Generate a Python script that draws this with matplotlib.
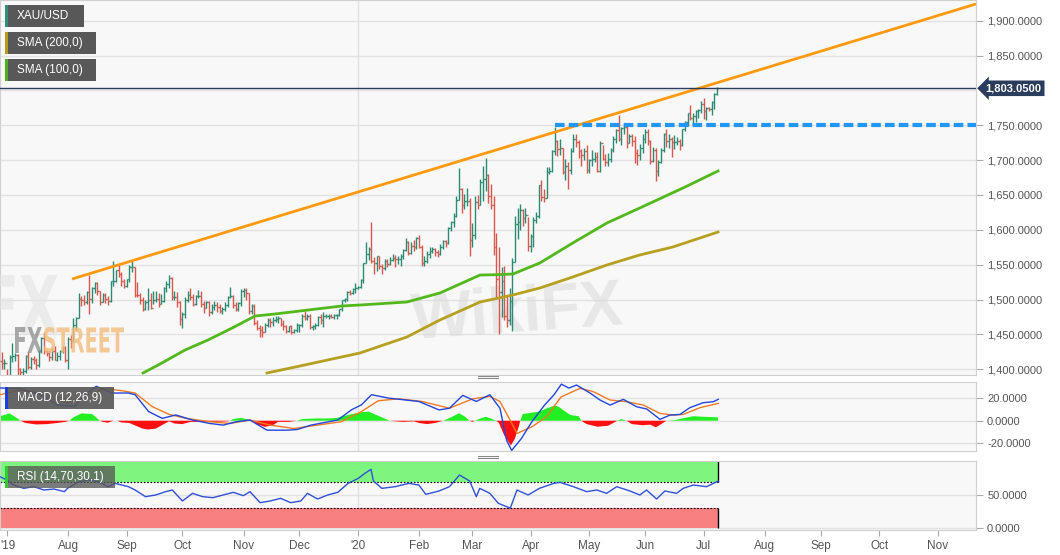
import numpy as np
import pandas as pd
import matplotlib
matplotlib.use('Agg')
import matplotlib.pyplot as plt
from matplotlib.patches import Rectangle, PathPatch
from matplotlib.textpath import TextPath
from matplotlib.font_manager import FontProperties
from matplotlib.transforms import Affine2D, blended_transform_factory, ScaledTranslation
from matplotlib.ticker import FuncFormatter, FixedLocator
from matplotlib.lines import Line2D

plt.rcParams['font.family'] = ['Liberation Sans', 'DejaVu Sans']

##=========================================================
# XAU/USD daily bars, 27 Jun 2019 -> 8 Jul 2020 (business days)
##=========================================================
first_open = 1412.0
highs = [
    1425, 1415, 1400, 1420, 1438, 1424, 1422, 1402, 1402, 1420, 1425, 1418, 1419, 1416, 1428, 1447, 1453,
    1427, 1428, 1431, 1433, 1425, 1427, 1433, 1434,                                   # Jun/Jul 19
    1446, 1449, 1474, 1475, 1510, 1505, 1507, 1512, 1535, 1518, 1525, 1525, 1513, 1510, 1510, 1505,
    1527, 1555, 1543, 1550, 1540, 1530,                                               # Aug
    1530, 1550, 1557, 1547, 1525, 1510, 1503, 1500, 1517, 1509, 1512, 1513, 1510, 1508, 1518, 1527,
    1535, 1533, 1512, 1511, 1498,                                                     # Sep
    1482, 1503, 1513, 1516, 1508, 1507, 1514, 1512, 1498, 1498, 1498, 1494, 1498, 1496, 1494, 1489,
    1496, 1505, 1518, 1506, 1496, 1497, 1515,                                         # Oct
    1516, 1516, 1510, 1494, 1493, 1471, 1464, 1462, 1467, 1474, 1474, 1475, 1476, 1476, 1474, 1470,
    1463, 1462, 1463, 1458, 1466,                                                     # Nov
    1465, 1479, 1484, 1480, 1479, 1464, 1467, 1477, 1480, 1482, 1479, 1479, 1479, 1480, 1480, 1487,
    1500, 1502, 1512, 1514, 1516, 1524,                                               # Dec
    1520, 1529, 1553, 1582, 1575, 1611, 1561, 1563, 1563, 1551, 1558, 1558, 1561, 1565, 1564, 1562,
    1566, 1573, 1588, 1584, 1583, 1585, 1590,                                         # Jan 20
    1592, 1578, 1562, 1569, 1575, 1575, 1574, 1571, 1579, 1585, 1586, 1604, 1612, 1624, 1649, 1689,
    1660, 1651, 1660, 1645,                                                           # Feb
    1610, 1649, 1650, 1673, 1692, 1703, 1680, 1666, 1648, 1596, 1575, 1546, 1548, 1505, 1517, 1560,
    1620, 1632, 1637, 1630, 1631, 1618,                                               # Mar
    1594, 1618, 1626, 1665, 1671, 1658, 1690, 1690, 1715, 1747, 1729, 1730, 1718, 1701, 1698, 1718,
    1738, 1738, 1729, 1716, 1718, 1722,                                               # Apr
    1702, 1715, 1712, 1711, 1727, 1721, 1709, 1710, 1717, 1735, 1745, 1765, 1747, 1752, 1749, 1737,
    1737, 1735, 1716, 1723, 1737,                                                     # May
    1745, 1744, 1729, 1719, 1718, 1700, 1718, 1739, 1745, 1737, 1733, 1736, 1733, 1731, 1745, 1756,
    1768, 1779, 1767, 1772, 1774, 1785,                                               # Jun
    1789, 1776, 1776, 1785, 1796, 1805,                                               # Jul
]
lows = [
    1400, 1400, 1381, 1381, 1410, 1412, 1386, 1388, 1385, 1394, 1400, 1400, 1408, 1401, 1403, 1423, 1422,
    1419, 1412, 1414, 1413, 1412, 1414, 1423, 1411,
    1400, 1431, 1439, 1456, 1473, 1491, 1492, 1494, 1480, 1495, 1509, 1507, 1492, 1496, 1495, 1492,
    1496, 1520, 1525, 1532, 1520, 1516,
    1518, 1525, 1539, 1504, 1504, 1493, 1484, 1485, 1485, 1487, 1494, 1496, 1489, 1493, 1496, 1511,
    1516, 1500, 1500, 1490, 1464,
    1459, 1474, 1497, 1500, 1491, 1492, 1502, 1490, 1481, 1488, 1477, 1480, 1485, 1482, 1481, 1480,
    1484, 1490, 1502, 1488, 1484, 1483, 1491,
    1503, 1500, 1479, 1480, 1463, 1456, 1446, 1447, 1454, 1461, 1461, 1462, 1468, 1466, 1462, 1456,
    1452, 1453, 1451, 1452, 1454,
    1454, 1461, 1471, 1470, 1458, 1456, 1458, 1462, 1465, 1460, 1473, 1472, 1473, 1472, 1472, 1477,
    1484, 1497, 1498, 1506, 1508, 1510,
    1515, 1516, 1524, 1553, 1557, 1553, 1536, 1541, 1544, 1536, 1543, 1546, 1549, 1556, 1546, 1551,
    1548, 1558, 1570, 1564, 1566, 1569, 1573,
    1574, 1548, 1548, 1553, 1560, 1567, 1562, 1561, 1564, 1572, 1576, 1579, 1599, 1604, 1618, 1643,
    1624, 1630, 1634, 1563,
    1576, 1587, 1630, 1636, 1641, 1656, 1638, 1630, 1564, 1504, 1451, 1475, 1470, 1460, 1464, 1455,
    1554, 1587, 1600, 1605, 1610, 1570,
    1568, 1576, 1610, 1617, 1641, 1640, 1645, 1680, 1683, 1708, 1706, 1707, 1680, 1672, 1659, 1680,
    1712, 1719, 1703, 1691, 1700, 1682,
    1681, 1692, 1698, 1683, 1683, 1700, 1691, 1692, 1697, 1712, 1724, 1727, 1722, 1737, 1717, 1724,
    1720, 1696, 1693, 1700, 1710,
    1725, 1722, 1694, 1697, 1670, 1677, 1696, 1712, 1719, 1718, 1704, 1716, 1721, 1715, 1720, 1742,
    1749, 1757, 1751, 1754, 1760, 1767,
    1759, 1758, 1770, 1765, 1774, 1793,
]
closes = [
    1409, 1409, 1385, 1418, 1419, 1420, 1400, 1396, 1397, 1419, 1403, 1415, 1413, 1406, 1426, 1445, 1426,
    1424, 1417, 1426, 1414, 1419, 1426, 1430, 1413,
    1444, 1440, 1464, 1474, 1501, 1500, 1497, 1511, 1501, 1516, 1524, 1513, 1496, 1506, 1501, 1498,
    1526, 1527, 1542, 1537, 1527, 1520,
    1529, 1547, 1547, 1507, 1506, 1499, 1486, 1497, 1499, 1488, 1499, 1501, 1494, 1498, 1516, 1522,
    1531, 1504, 1504, 1497, 1472,
    1479, 1500, 1507, 1504, 1493, 1505, 1505, 1494, 1488, 1496, 1482, 1490, 1492, 1489, 1484, 1487,
    1492, 1504, 1505, 1492, 1487, 1495, 1513,
    1514, 1509, 1483, 1491, 1467, 1459, 1456, 1454, 1463, 1470, 1468, 1471, 1472, 1473, 1465, 1462,
    1455, 1462, 1454, 1456, 1463,
    1463, 1477, 1474, 1476, 1460, 1462, 1464, 1475, 1471, 1476, 1476, 1476, 1475, 1478, 1478, 1486,
    1499, 1501, 1511, 1510, 1515, 1517,
    1518, 1528, 1552, 1566, 1573, 1556, 1552, 1562, 1548, 1545, 1556, 1551, 1557, 1560, 1558, 1558,
    1563, 1571, 1582, 1567, 1577, 1576, 1589,
    1576, 1553, 1556, 1566, 1570, 1572, 1568, 1565, 1576, 1584, 1581, 1602, 1611, 1620, 1643, 1659,
    1635, 1641, 1642, 1586,
    1593, 1640, 1636, 1668, 1673, 1679, 1649, 1635, 1576, 1530, 1511, 1527, 1477, 1471, 1498, 1554,
    1608, 1611, 1628, 1617, 1621, 1577,
    1591, 1614, 1620, 1664, 1647, 1646, 1683, 1685, 1713, 1727, 1716, 1718, 1683, 1692, 1686, 1713,
    1730, 1726, 1713, 1707, 1713, 1686,
    1700, 1701, 1705, 1685, 1725, 1702, 1697, 1702, 1715, 1730, 1743, 1731, 1746, 1747, 1725, 1735,
    1728, 1710, 1708, 1718, 1730,
    1740, 1727, 1699, 1714, 1684, 1698, 1715, 1737, 1728, 1730, 1726, 1726, 1727, 1722, 1744, 1754,
    1768, 1761, 1763, 1771, 1772, 1781,
    1770, 1775, 1774, 1783, 1795, 1803.05,
]
last_price = 1803.05

# indicator lines: (trading days from 2019-08-01, value)
sma100_pts = [(28.2, 1394.7), (34.6, 1407.6), (44.0, 1427.7), (52.6, 1442.0), (61.7, 1459.2),
              (70.3, 1476.4), (77.8, 1479.3), (90.2, 1485.0), (103.0, 1490.8), (109.8, 1492.2),
              (127.4, 1496.5), (139.8, 1509.4), (154.9, 1535.2), (161.3, 1535.7), (167.3, 1536.7),
              (177.4, 1552.5), (189.8, 1581.2), (202.6, 1609.8), (215.0, 1631.4), (231.2, 1660.0),
              (244.4, 1684.4)]
sma200_pts = [(74.8, 1394.7), (87.2, 1404.7), (109.8, 1423.4), (127.4, 1446.3), (139.8, 1470.7),
              (154.9, 1496.5), (167.3, 1506.6), (177.4, 1516.6), (189.8, 1532.4), (202.6, 1549.6),
              (215.0, 1564.0), (227.4, 1575.4), (244.4, 1596.9)]
trend_pts = [(1.5, 1529.5), (341.4, 1924.0)]
resistance = 1750.0
resistance_from = '2020-04-14'

macd_pts = [(-25.6, 29.1), (-17.9, 28.5), (-10.3, 23.1), (-4.0, 14.1), (2.4, 12.6), (6.2, 23.1),
            (10.6, 30.6), (16.4, 24.6), (22.7, 24.6), (25.2, 23.1), (30.3, 8.1), (35.4, 2.1),
            (40.5, 5.1), (46.8, 0.6), (53.2, -2.4), (58.3, -3.9), (63.3, -0.9), (68.4, 0.6),
            (74.8, -8.4), (82.4, -8.4), (86.2, -7.8), (91.3, -3.9), (101.4, 0.6), (106.5, 9.6),
            (110.3, 14.1), (114.1, 23.1), (120.5, 20.1), (131.9, 17.1), (139.5, 9.6), (143.4, 11.1),
            (148.4, 22.5), (153.5, 17.1), (158.6, 23.1), (162.4, 11.1), (164.9, -17.4), (166.8, -26.4),
            (170.4, -16.0), (174.4, -0.9), (179.2, 14.0), (182.7, 23.0), (185.5, 32.5), (188.3, 29.0),
            (191.2, 31.7), (196.4, 24.4), (200.0, 18.4), (203.8, 13.9), (208.8, 19.0), (213.8, 12.4),
            (217.6, 10.4), (222.6, 1.2), (226.3, 5.0), (230.1, 5.6), (233.8, 11.6), (238.8, 16.0),
            (242.6, 16.9), (244.5, 19.0)]
signal_pts = [(-25.6, 23.1), (-17.9, 27.6), (-9.1, 23.1), (-0.2, 15.6), (7.5, 23.1), (13.8, 28.5),
              (20.2, 26.7), (25.2, 24.6), (31.6, 12.6), (37.9, 5.7), (44.3, 2.1), (53.2, -0.9),
              (60.8, -2.4), (68.4, 0.6), (76.0, -3.9), (84.9, -6.9), (93.8, -3.9), (102.7, -0.9),
              (110.3, 8.1), (116.6, 17.7), (124.3, 19.5), (133.1, 17.1), (143.4, 11.1), (152.2, 19.5),
              (158.6, 21.6), (162.4, 17.1), (166.2, 0.6), (168.8, -11.3), (174.4, -5.4), (180.0, 3.6),
              (185.3, 21.0), (192.5, 28.8), (197.5, 25.8), (203.8, 18.4), (210.0, 16.9), (216.3, 13.9),
              (222.6, 6.5), (227.6, 5.0), (231.3, 5.6), (237.6, 11.6), (244.5, 15.4)]
hist_pts = [(-25.6, 4), (-22, 6.5), (-19, 2), (-18, 0), (-16, -2), (-12, -3.3), (-8, -3), (-4, -2),
            (-1, -1), (0.5, 0), (2, 3), (5, 6.5), (9, 6), (11.5, 1), (12, 0), (13, -1), (15, -1.8),
            (17, 0), (18.5, 0), (20, -1.5), (23, -2), (25, -4), (28, -7), (30, -7.8), (33, -7),
            (36, -3), (38, -0.5), (40, -2.5), (43, -3), (46, -1), (50, -1), (55, -1), (60, -0.5),
            (61, 0), (62, 1.5), (65, 2.5), (68, 1), (69, 0), (71, -3), (74, -5.4), (77, -4), (79, -1),
            (83, -1), (86, 0), (88, 1.5), (93, 2), (98, 2), (101, 2.5), (105, 5), (110, 7.5),
            (113, 8.1), (117, 4), (120, 1), (121, 0), (123, -0.5), (126, -1), (130, -0.5), (132, -2),
            (135, -3), (138, -2), (141, 0), (144, 3), (147, 6.6), (149, 4), (151, 0), (152, -1),
            (153, 0), (155, 2), (157, 3.5), (159, 2), (161, 0), (162, -2), (164, -13), (166.5, -22),
            (168, -16), (169.5, -5), (170, 0), (171, 6), (174, 7), (177, 8), (180, 11), (183, 13.5),
            (184.5, 12.4), (187, 8), (189, 5), (192, 4), (193, 0), (195, -3), (199, -5.3),
            (203, -4.5), (205, -2), (206.5, 0), (208, 1.5), (210, 0), (212, -3), (216, -4),
            (219, -3.5), (221, -5.9), (223, -3), (225, 0), (228, 0.5), (231, 2), (235, 4),
            (239, 3.5), (244.4, 3)]
rsi_pts = [(-25.6, 77.5), (-23, 72.5), (-20.5, 65), (-16.7, 60), (-12.9, 62.5), (-9.1, 57.5),
           (-5.3, 59), (-1.4, 55), (-0.2, 60), (3.6, 69), (7.5, 72.5), (11.3, 70), (15.1, 62.5),
           (17.6, 67.5), (22.7, 62.5), (25.2, 57.5), (29.1, 47.5), (32.9, 50), (36.7, 55),
           (39.2, 57.5), (43.0, 41), (46.8, 52.5), (50.6, 47.5), (54.4, 46), (58.3, 50), (62.1, 54),
           (65.9, 49), (68.4, 55), (72.2, 38.5), (76.0, 41), (79.9, 45), (83.7, 38.5), (87.5, 41),
           (90.0, 52.5), (93.8, 44), (97.6, 50), (101.4, 54), (105.3, 67.5), (109.1, 75),
           (111.6, 82.5), (113.9, 88.5), (114.8, 71), (118.0, 60), (123.0, 62.5), (128.1, 67.5),
           (131.9, 65), (134.5, 51), (139.5, 56), (143.4, 62.5), (147.2, 80), (151.0, 71),
           (153.5, 47.5), (154.8, 60), (158.6, 52.5), (161.8, 37.5), (164.9, 32.5), (166.3, 30.5),
           (168.8, 57.5), (173.0, 50), (177.2, 60), (182.7, 67.5), (185.0, 69), (190.0, 62.5),
           (195.0, 55), (198.8, 57.5), (202.5, 52.5), (206.3, 62.5), (211.3, 56), (215.0, 50),
           (217.5, 57.5), (221.3, 44), (224.4, 56), (228.8, 52.5), (231.3, 60), (235.1, 65),
           (240.1, 62.5), (244.5, 71)]

month_labels = ["'19", 'Aug', 'Sep', 'Oct', 'Nov', 'Dec', "'20", 'Feb', 'Mar', 'Apr', 'May',
                'Jun', 'Jul', 'Aug', 'Sep', 'Oct', 'Nov']

##=========================================================
# positions (trading days counted from 2019-08-01)
##=========================================================
origin = np.datetime64('2019-08-01')
dates = pd.bdate_range('2019-06-27', '2020-07-08')
x = np.busday_count(origin, dates.values.astype('datetime64[D]')).astype(float)
highs = np.array(highs, float)
lows = np.array(lows, float)
closes = np.array(closes, float)
opens = np.r_[first_open, closes[:-1]]
months = pd.date_range('2019-07-01', '2020-11-01', freq='MS')
month_x = np.busday_count(origin, months.values.astype('datetime64[D]'))
year_x = month_x[month_labels.index("'20")]
res_x = np.busday_count(origin, np.datetime64(resistance_from))
x_left, x_right = -25.6, 341.4

W, H = 1060, 555
fig = plt.figure(figsize=(W / 100, H / 100), dpi=100)
fig.patch.set_facecolor('white')

def px_axes(left, top, right, bottom):
    return fig.add_axes([left / W, 1 - bottom / H, (right - left) / W, (bottom - top) / H])

ax_p = px_axes(0, 0, 976, 375)
ax_m = px_axes(0, 382, 976, 451)
ax_r = px_axes(0, 461, 976, 530)

fmt = FuncFormatter(lambda v, p: f'{v:,.4f}')
for ax in [ax_p, ax_m, ax_r]:
    ax.set_facecolor('#f8f8f8')
    ax.set_xlim(x_left, x_right)
    ax.yaxis.tick_right()
    ax.yaxis.set_major_formatter(fmt)
    ax.tick_params(axis='y', direction='out', length=5, color='#aaaaaa', labelcolor='#555555',
                   labelsize=8, pad=3)
    ax.grid(axis='y', color='#e2e2e2', lw=1)
    ax.set_axisbelow(True)
    for s in ax.spines.values():
        s.set_color('#cfcfcf')
    ax.axvline(year_x, color='#e0e0e0', lw=1, zorder=0.8)
    ax.xaxis.set_major_locator(FixedLocator(month_x))
for ax in [ax_p, ax_m]:
    ax.tick_params(axis='x', length=0, labelbottom=False)

##=========================================================
# price panel
##=========================================================
ax_p.set_ylim(1391.8, 1929.7)
# the 1,800 label sits under the last-price marker, so only its grid line is drawn
ax_p.set_yticks([v for v in np.arange(1400, 1901, 50) if v != 1800])
ax_p.axhline(1800, color='#e2e2e2', lw=1, zorder=0.5)

up = closes >= opens
cols = np.where(up, '#2a8a72', '#d9574b')
ax_p.vlines(x, lows, highs, colors=cols, lw=1, zorder=3)
ax_p.hlines(opens, x - 0.5, x, colors=cols, lw=1, zorder=3)
ax_p.hlines(closes, x, x + 0.5, colors=cols, lw=1, zorder=3)

sx, sy = np.array(sma200_pts).T
ax_p.plot(sx, sy, color='#b5a020', lw=2, zorder=4)
sx, sy = np.array(sma100_pts).T
ax_p.plot(sx, sy, color='#52b81c', lw=2, zorder=4)
tx, ty = np.array(trend_pts).T
ax_p.plot(tx, ty, color='#ff9a10', lw=2, zorder=4, solid_capstyle='butt')
ax_p.plot([res_x, x_right], [resistance, resistance], color='#2196f3', lw=3,
          dashes=(2.3, 1.0), zorder=4)
ax_p.axhline(last_price, color='#2b3d5c', lw=1, zorder=4)

trans = blended_transform_factory(ax_p.transAxes, ax_p.transData)
ax_p.annotate(f'{last_price:,.4f}', xy=(1.0, last_price), xycoords=trans,
              xytext=(7, 0), textcoords='offset points', ha='left', va='center',
              color='white', fontsize=8, fontweight='bold', annotation_clip=False,
              bbox=dict(boxstyle='larrow,pad=0.25', fc='#2b3d5c', ec='none'), zorder=10)

# watermarks, drawn as outlines so they can run off the edge like in the source
def path_text(s, x0, x1, ytop, ybot, color, alpha, z=2):
    tp = TextPath((0, 0), s, size=1, prop=FontProperties(family='DejaVu Sans', weight='bold'))
    ext = tp.get_extents()
    tr = (Affine2D().translate(-ext.x0, -ext.y0)
          .scale((x1 - x0) / ext.width / W, (ybot - ytop) / ext.height / H)
          .translate(x0 / W, 1 - ybot / H) + fig.transFigure)
    fig.add_artist(PathPatch(tp, transform=tr, fc=color, ec='none', alpha=alpha, zorder=z))

ax_p.text(0.53, 0.16, 'WikiFX', transform=ax_p.transAxes, fontsize=46, fontweight='bold',
          color='#d9d9d9', alpha=0.55, ha='center', va='center', rotation=4, zorder=0.6)
path_text('FX', -12, 58, 275, 335, '#e2e2e2', 0.55, z=0.3)
path_text('FX', 15, 42, 327, 353, '#8c8c8c', 0.75)
path_text('STREET', 44, 124, 327, 353, '#f2bd7c', 0.8)

##=========================================================
# MACD panel
##=========================================================
ax_m.set_ylim(-26.9, 34.4)
ax_m.set_yticks([-20, 0, 20])
hx, hy = np.array(hist_pts).T
ax_m.fill_between(hx, 0, hy, where=hy >= 0, interpolate=True, color='#22ee22', lw=0, zorder=2)
ax_m.fill_between(hx, 0, hy, where=hy <= 0, interpolate=True, color='#ff1010', lw=0, zorder=2)
mx, my = np.array(signal_pts).T
ax_m.plot(mx, my, color='#f07a22', lw=1, zorder=3)
mx, my = np.array(macd_pts).T
ax_m.plot(mx, my, color='#2246dd', lw=1, zorder=3)

##=========================================================
# RSI panel
##=========================================================
ax_r.set_ylim(-2.55, 101.05)
ax_r.set_yticks([0, 50])
x_end = x[-1] + 0.4
ax_r.fill_between([x_left, x_end], 70, 101.05, color='#7ef57e', lw=0, zorder=1)
ax_r.fill_between([x_left, x_end], 0, 30, color='#f98080', lw=0, zorder=1)
ax_r.hlines([70, 30], x_left, x_end, colors='black', lw=0.8, linestyles=(0, (1.5, 1.5)), zorder=2)
ax_r.vlines(x_end, 70, 101.05, colors='black', lw=1, zorder=2)
ax_r.vlines(x_end, 0, 30, colors='black', lw=1, zorder=2)
rx, ry = np.array(rsi_pts).T
ax_r.plot(rx, ry, color='#3050d8', lw=1, zorder=3)
ax_r.set_xticklabels(month_labels)
ax_r.tick_params(axis='x', direction='out', length=4, color='#aaaaaa', labelcolor='#555555',
                 labelsize=8.5, pad=3)
# first label sits against the left edge
first_lab = ax_r.get_xticklabels()[0]
first_lab.set_ha('left')
first_lab.set_transform(first_lab.get_transform()
                        + ScaledTranslation(-6.5 / 100, 0, fig.dpi_scale_trans))

##=========================================================
# label boxes and panel grips
##=========================================================
def label_box(x0, y0, x1, y1, text, stripe, alpha=1.0):
    fig.add_artist(Rectangle((x0 / W, 1 - y1 / H), (x1 - x0) / W, (y1 - y0) / H,
                             transform=fig.transFigure, fc='#585858', ec='none',
                             alpha=alpha, zorder=10))
    fig.add_artist(Rectangle((x0 / W, 1 - y1 / H), 3 / W, (y1 - y0) / H,
                             transform=fig.transFigure, fc=stripe, ec='none', zorder=11))
    fig.text((x0 + 12) / W, 1 - (y0 + y1) / 2 / H, text, color='white', fontsize=8.5,
             va='center', ha='left', zorder=12)

label_box(5, 5, 84, 27, 'XAU/USD', '#2f8f7a')
label_box(5, 32, 96, 54, 'SMA (200,0)', '#b59a1c')
label_box(5, 59, 96, 81, 'SMA (100,0)', '#4caf1e')
label_box(5, 387, 114, 409, 'MACD (12,26,9)', '#1a3fe0', alpha=0.92)
label_box(5, 466, 115, 488, 'RSI (14,70,30,1)', '#2ecc2e', alpha=0.78)

for gy in [376, 378, 455.5, 457.5]:
    fig.add_artist(Line2D([478 / W, 498 / W], [1 - gy / H, 1 - gy / H], color='#8a8a8a',
                          lw=0.8, transform=fig.transFigure))

plt.savefig('out.png', dpi=100)
